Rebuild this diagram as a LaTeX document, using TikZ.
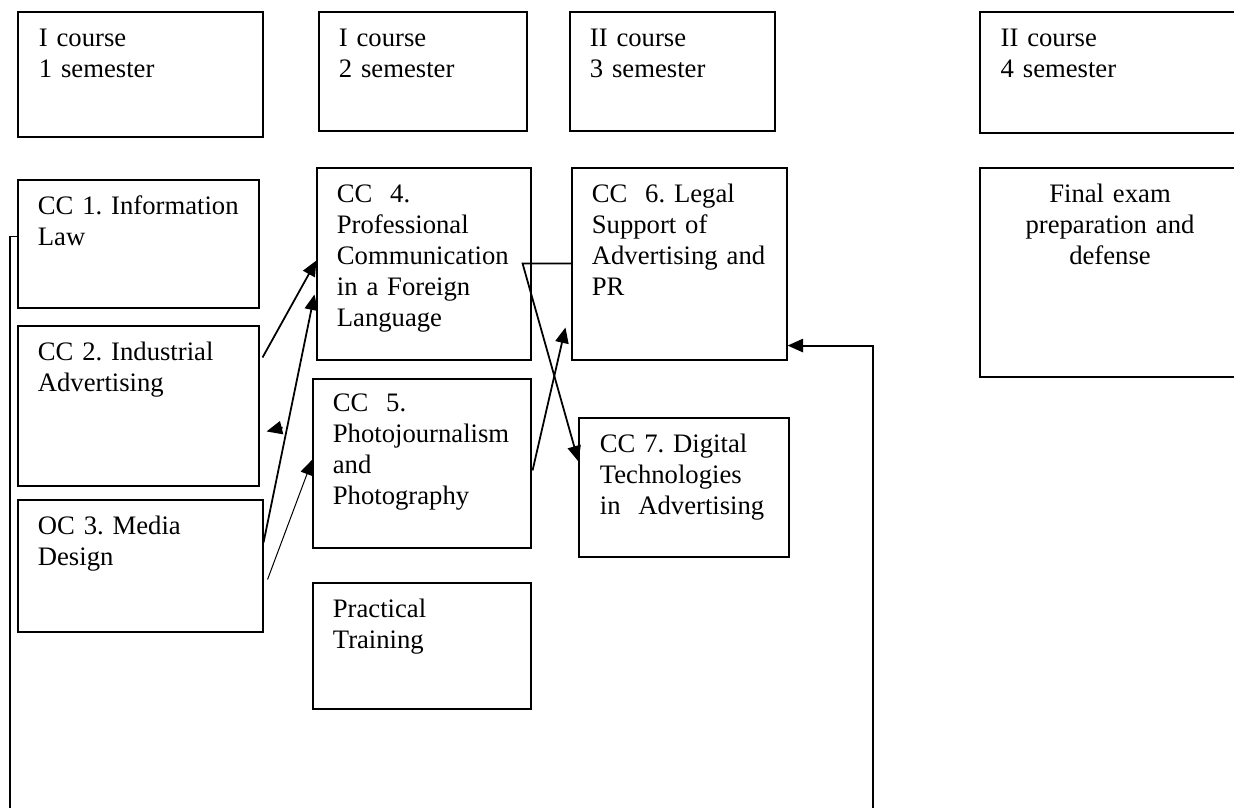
\documentclass[tikz,border=0pt]{standalone}
\usepackage{fontspec}
\setmainfont{Liberation Serif}
\frenchspacing
\usetikzlibrary{arrows.meta,calc,fit}
\tikzset{
	box/.style={draw, rectangle, inner sep=0pt, line width=0.5pt},
	txt/.style={anchor=base west, inner sep=0pt, text width=100pt, align=left, font=\fontsize{12pt}{13.9pt}\selectfont},
}
\begin{document}
\begin{tikzpicture}[x=0.45pt, y=-0.45pt, >={Triangle[length=7pt,width=6pt]}]
		\useasboundingbox (0,0) rectangle (1234,808);
		\clip (0,0) rectangle (1234,808);
		% semesters
		\node[box, fit={(18,12) (263,137)}] (sem1) {};
		\node[txt] (sem1t) at ($(sem1.north west)+(21,35)$) {I course\\1 semester};
		\node[box, fit={(319,12) (527,131)}] (sem2) {};
		\node[txt] (sem2t) at ($(sem2.north west)+(20,35)$) {I course\\2 semester};
		\node[box, fit={(570,12) (775,131)}] (sem3) {};
		\node[txt] (sem3t) at ($(sem3.north west)+(20,35)$) {II course\\3 semester};
		\node[box, line width=0.7pt, fit={(980,12) (1240,133)}] (sem4) {};
		\node[txt] (sem4t) at ($(sem4.north west)+(21,35)$) {II course\\4 semester};
		% first year
		\node[box, fit={(18,180) (259,308)}] (cc1) {};
		\node[txt] (cc1t) at ($(cc1.north west)+(20,35)$) {CC 1. Information\\Law};
		\node[box, fit={(18,326) (259,486)}] (cc2) {};
		\node[txt] (cc2t) at ($(cc2.north west)+(20,35)$) {CC 2. Industrial\\Advertising};
		\node[box, fit={(18,500) (263,632)}] (oc3) {};
		\node[txt] (oc3t) at ($(oc3.north west)+(20,35)$) {OC 3. Media\\Design};
		\node[box, fit={(317,168) (531,360)}] (cc4) {};
		\node[txt] (cc4t) at ($(cc4.north west)+(20,35)$) {CC\ \ 4.\\Professional\\Communication\\in a Foreign\\Language};
		\node[box, fit={(313,379) (531,548)}] (cc5) {};
		\node[txt] (cc5t) at ($(cc5.north west)+(20,33)$) {CC\ \ 5.\\Photojournalism\\and\\Photography};
		\node[box, fit={(313,583) (531,709)}] (prac) {};
		\node[txt] (pract) at ($(prac.north west)+(20,35)$) {Practical\\Training};
		% second year
		\node[box, fit={(572,168) (787,360)}] (cc6) {};
		\node[txt] (cc6t) at ($(cc6.north west)+(20,35)$) {CC\ \ 6. Legal\\Support of\\Advertising and\\PR};
		\node[box, fit={(579,418) (789,557)}] (cc7) {};
		\node[txt] (cc7t) at ($(cc7.north west)+(21,35)$) {CC 7. Digital\\Technologies\\in\ \ Advertising};
		\node[box, line width=0.7pt, fit={(980,168) (1240,377)}] (final) {};
		\node[txt, anchor=base, align=center, text width=120pt] (finalt) at ($(final.north)+(0,35)$) {Final exam\\preparation and\\defense};
		% connectors
		\coordinate (lawend) at (10,808);
		\draw[line width=0.6pt] ($(cc1.north west)+(0,57)$) -| (lawend);
		\coordinate (prend) at (873,808);
		\draw[->, line width=0.9pt] (prend) |- ($(cc6.south east)+(0,-15)$);
		\draw[->, line width=0.8pt] ($(cc2.north east)+(3,32)$) -- ($(cc4.north west)+(0,93)$);
		\draw[->, line width=0.8pt] ($(oc3.north east)+(0,43)$) -- ($(cc4.north west)+(-2,127)$);
		\draw[->, line width=0.8pt] ($(cc2.north east)+(23,102)$) -- ($(cc2.north east)+(7,106)$);
		\draw[->, line width=0.45pt] ($(oc3.north east)+(4,80)$) -- ($(cc5.north west)+(0,81)$);
		\draw[->, line width=0.8pt] ($(cc6.north west)+(0,96)$) -- ($(cc4.north east)+(-9,96)$) -- ($(cc7.north west)+(0,44)$);
		\draw[->, line width=0.8pt] ($(cc5.north east)+(1,92)$) -- ($(cc6.north west)+(-6,160)$);
\end{tikzpicture}
\end{document}
